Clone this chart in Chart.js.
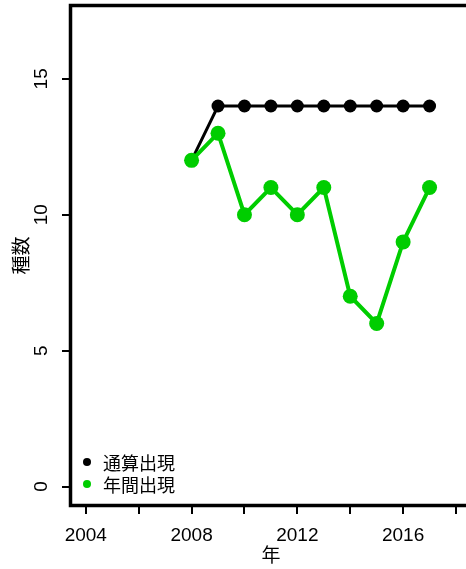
<!DOCTYPE html>
<html>
<head>
<meta charset="utf-8">
<script src="https://cdn.jsdelivr.net/npm/chart.js@4/dist/chart.umd.min.js"></script>
<style>
  html, body { margin: 0; padding: 0; background: #fff; }
  canvas { display: block; }
</style>
</head>
<body>
<canvas id="chart" width="466" height="569"></canvas>
<script>
// data
const years = [2008, 2009, 2010, 2011, 2012, 2013, 2014, 2015, 2016, 2017];
const cumulative = [12, 14, 14, 14, 14, 14, 14, 14, 14, 14];
const annual = [12, 13, 10, 11, 10, 11, 7, 6, 9, 11];
const seriesNames = ['通算出現', '年間出現'];
const seriesColors = ['#000000', '#00CD00'];
const xTicks = [2004, 2006, 2008, 2010, 2012, 2014, 2016, 2018];
const xTickLabels = ['2004', '', '2008', '', '2012', '', '2016', ''];
const yTicks = [0, 5, 10, 15];
const xTitle = '年';
const yTitle = '種数';

const numFont = '"Liberation Sans", Arial, sans-serif';
const cjkFont = '"Noto Sans CJK JP", "Noto Sans CJK SC", sans-serif';

function toPoints(vals) {
    return years.map((y, i) => ({ x: y, y: vals[i] }));
}

const rBase = {
    id: 'rBase',
    afterDraw(chart) {
        const ctx = chart.ctx;
        const area = chart.chartArea;
        const ys = chart.scales.y;
        ctx.save();

        // box (right side runs off the canvas)
        ctx.strokeStyle = '#000';
        ctx.lineWidth = 3.5;
        ctx.beginPath();
        ctx.moveTo(chart.width + 5, area.top - 0.5);
        ctx.lineTo(area.left - 0.5, area.top - 0.5);
        ctx.lineTo(area.left - 0.5, area.bottom + 0.5);
        ctx.lineTo(chart.width + 5, area.bottom + 0.5);
        ctx.stroke();

        // y tick labels, rotated like R's default
        ctx.fillStyle = '#000';
        ctx.font = '19px ' + numFont;
        ctx.textAlign = 'center';
        ctx.textBaseline = 'middle';
        ys.ticks.forEach(t => {
            const py = ys.getPixelForValue(t.value);
            ctx.save();
            ctx.translate(42, py);
            ctx.rotate(-Math.PI / 2);
            ctx.fillText(String(t.value), 0, 0);
            ctx.restore();
        });

        // axis titles
        ctx.font = '19px ' + cjkFont;
        ctx.fillText(xTitle, 271, 555);
        ctx.save();
        ctx.translate(21, (area.top + area.bottom) / 2);
        ctx.rotate(-Math.PI / 2);
        ctx.fillText(yTitle, 0, 0);
        ctx.restore();

        // legend in the bottom-left corner
        ctx.font = '18px ' + cjkFont;
        ctx.textAlign = 'left';
        seriesNames.forEach((name, i) => {
            const ly = 462 + i * 22;
            ctx.fillStyle = seriesColors[i];
            ctx.beginPath();
            ctx.arc(87, ly, 4, 0, Math.PI * 2);
            ctx.fill();
            ctx.fillStyle = '#000';
            ctx.fillText(name, 103, ly + 1);
        });
        ctx.restore();
    }
};

const ctx = document.getElementById('chart').getContext('2d');
new Chart(ctx, {
    type: 'line',
    data: {
        datasets: [
            {
                label: seriesNames[0],
                data: toPoints(cumulative),
                borderColor: seriesColors[0],
                backgroundColor: seriesColors[0],
                borderWidth: 3,
                pointRadius: 6.5,
                pointBorderWidth: 0,
                tension: 0,
                order: 2
            },
            {
                label: seriesNames[1],
                data: toPoints(annual),
                borderColor: seriesColors[1],
                backgroundColor: seriesColors[1],
                borderWidth: 4,
                pointRadius: 7.5,
                pointBorderWidth: 0,
                tension: 0,
                order: 1
            }
        ]
    },
    options: {
        responsive: false,
        animation: false,
        layout: { autoPadding: false, padding: { top: 6, left: 0, right: 0, bottom: 0 } },
        plugins: {
            legend: { display: false },
            tooltip: { enabled: false }
        },
        scales: {
            x: {
                type: 'linear',
                min: 2003.44,
                max: 2018.18,
                afterBuildTicks: s => { s.ticks = xTicks.map(v => ({ value: v })); },
                afterFit: s => { s.height = 64; },
                border: { display: false },
                grid: {
                    drawOnChartArea: false,
                    drawTicks: true,
                    tickLength: 9,
                    color: '#000',
                    lineWidth: 2
                },
                ticks: {
                    color: '#000',
                    font: { family: numFont, size: 19 },
                    padding: 10,
                    maxRotation: 0,
                    autoSkip: false,
                    callback: (v) => xTickLabels[xTicks.indexOf(v)] || ''
                }
            },
            y: {
                type: 'linear',
                min: -0.68,
                max: 17.68,
                afterBuildTicks: s => { s.ticks = yTicks.map(v => ({ value: v })); },
                afterFit: s => { s.width = 71; },
                border: { display: false },
                grid: {
                    drawOnChartArea: false,
                    drawTicks: true,
                    tickLength: 9,
                    color: '#000',
                    lineWidth: 2
                },
                ticks: { display: false }
            }
        }
    },
    plugins: [rBase]
});
</script>
</body>
</html>
